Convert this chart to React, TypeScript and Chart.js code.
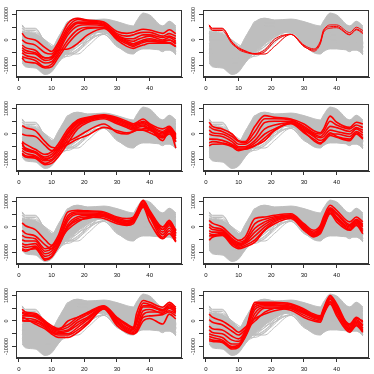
import React, { useEffect, useRef } from "react";
import { Chart, registerables } from "chart.js";

Chart.register(...registerables);

// x positions of the recorded values (time index 1..48)
const knotX = [1, 2, 5, 8, 10, 12, 15, 18, 21, 26, 30, 33, 35, 36, 38, 40, 44, 46, 48];
const xTicks = [0, 10, 20, 30, 40];
const yTicks = [-10000, -5000, 0, 5000, 10000];
const yTickLabels = ["-10000", "", "0", "", "10000"];

// dense core of the grey background (all series)
const grayUpper = [3500, 3000, 2500, -1000, -3000, 1000, 7000, 8500, 7800, 8200, 7200, 6000, 5500, 7500, 10500, 9800, 5500, 7300, 5500];
const grayLower = [-9000, -10500, -11000, -13500, -12500, -9000, -4500, -1000, 2000, 3000, -2000, -5000, -5500, -4500, -3500, -3500, -4000, -4000, -5500];

const cluster1 = [
  [2600, 1000, 0, -3000, -4500, -1000, 6500, 8500, 7800, 7000, 3300, 2600, 3000, 3500, 4200, 3900, 2600, 4000, 2500],
  [0, -1000, -2000, -5000, -5500, -2000, 5000, 8000, 7500, 6500, 2500, 1500, 2000, 2500, 3000, 3000, 1500, 2500, 1500],
  [-2000, -3000, -4000, -7000, -6500, -3000, 4000, 7000, 7000, 6000, 2000, 500, 500, 1000, 2000, 2000, 1000, 1500, 500],
  [-4000, -5000, -5500, -8000, -7500, -4000, 3000, 6500, 6500, 6000, 1500, 0, -500, 0, 1000, 1500, 0, 1000, -500],
  [-5000, -6000, -7000, -9000, -8500, -5000, 2000, 5500, 6000, 5500, 1000, -500, -1500, -1000, 0, 500, -500, 0, -1500],
  [-6500, -7000, -8000, -10500, -9500, -6000, 0, 4000, 5000, 5000, 500, -1500, -2500, -2000, -1000, -500, -1000, -1000, -2500],
  [-7000, -8500, -9000, -11000, -10500, -7000, -1500, 2600, 4500, 4800, 0, -2500, -3300, -2800, -2000, -1300, -1300, -1300, -2600],
  [-3000, -4000, -5000, -7000, -7000, -4000, -3500, -1300, 2000, 4500, 1000, -1000, -2000, -1500, -500, 0, -500, 0, -1000],
];
const cluster2 = [
  [5900, 4600, 4600, -1000, -3700, -4800, -5500, -5500, -2500, 2200, -2600, -3900, -1000, 3500, 5900, 5900, 2900, 5000, 3700],
  [5500, 3700, 3700, -1500, -3300, -4500, -5300, -3900, 300, 2200, -2000, -3500, -500, 4000, 5200, 5300, 2200, 4300, 3000],
  [5900, 4300, 4300, -800, -3000, -4200, -5500, -4600, -500, 2200, -2300, -4400, -1500, 3000, 4600, 4800, 2000, 4000, 2500],
];
const cluster3 = [
  [3300, 2500, 1300, -3000, -5200, -5500, -3000, -1000, 1300, 3900, 600, 0, 1000, 1500, 2000, 2500, -1000, 1000, -2000],
  [0, -500, -1000, -4500, -6500, -6000, -4000, -2000, -500, 2600, 1300, 500, 1000, 1500, 1500, 1500, -1500, 500, -3000],
  [-3000, -4000, -6000, -8000, -7000, -4000, 2000, 5500, 6500, 7500, 6500, 5000, 4000, 4500, 5900, 4000, 2000, 3000, 0],
  [-4500, -5500, -7000, -9000, -8000, -5000, 1000, 5000, 6200, 7200, 6000, 4500, 3500, 4000, 5000, 3500, 1000, 2500, -500],
  [-5500, -6500, -7500, -10000, -9000, -6000, 0, 4200, 5800, 7000, 5500, 4000, 3000, 3500, 4000, 3000, 500, 2000, -1000],
  [-6500, -7500, -8500, -10500, -10000, -7000, -1000, 3500, 5500, 6800, 5000, 3500, 2500, 3000, 3500, 2000, 0, 1500, -1500],
  [-7500, -8500, -9000, -11500, -10500, -8000, -2000, 3000, 5000, 6500, 4500, 3000, 2000, 2500, 3000, 1500, -500, 1000, -2000],
  [-8000, -9000, -9500, -12000, -11500, -9000, -3500, 2000, 4500, 6000, 4000, 2500, 1500, 2000, 1500, 500, -1500, 0, -3000],
  [-3500, -6000, -7000, -9500, -9000, -6000, 500, 4500, 6000, 7300, 5800, 4200, 3200, 3500, 4500, 2500, -2600, 1500, -5500],
];
const cluster4 = [
  [4600, 3000, 2000, 0, -2600, -3000, 3000, 7200, 6500, 5900, 3900, 1300, 500, 2000, 7000, 4600, 2600, 4600, 3900],
  [3000, 2000, 1000, -1000, -3000, -3500, 1000, 6000, 6000, 5500, 3000, 500, 0, 1000, 5000, 3500, 2000, 3500, 2500],
  [1500, 500, 0, -2000, -4000, -4000, -1000, 4500, 5000, 5000, 2500, 0, -1000, 0, 3000, 2500, 1000, 2500, 1500],
  [0, -500, -1000, -3000, -5000, -5000, -2500, 2000, 3500, 4500, 2000, -500, -1500, -1000, 1500, 1000, 0, 2000, 500],
  [-2000, -2000, -2500, -4000, -5500, -5500, -3500, 0, 2000, 4200, 1500, -1000, -2500, -2000, 0, 0, -1000, 1000, -500],
  [-3500, -3000, -3500, -4500, -6000, -6000, -4500, -2600, 1300, 4000, 500, -2000, -3500, -3000, -600, -1300, -2600, 0, -2000],
  [-4600, -4000, -3900, -5000, -6500, -5900, -4600, -1500, 1500, 4500, 1000, -2600, -3900, -2500, 500, -1000, -2000, 500, -1500],
];
const cluster5 = [
  [1600, 500, -1000, -5000, -7200, -5000, 0, 2600, 3300, 4500, 2000, 1000, 2500, 4000, 8000, 4000, 0, 2000, -1300],
  [-1300, -2500, -3500, -7000, -8500, -6000, -1000, 2000, 3900, 5000, 2500, 1200, 3000, 5000, 9000, 5000, -1000, 1000, -2500],
  [-3300, -4000, -4600, -8500, -7500, -3500, 5900, 6500, 6300, 5900, 3900, 3300, 3900, 6000, 10500, 6500, 0, 2600, -1500],
  [-5000, -5500, -5500, -9500, -8500, -4500, 4500, 6000, 6000, 5500, 3500, 2500, 3500, 5500, 10000, 6000, -1000, 1500, -2500],
  [-6500, -7000, -6500, -10500, -9500, -5500, 3500, 5500, 5500, 5000, 3000, 2000, 3000, 5000, 9500, 5500, -2000, 500, -3500],
  [-7500, -8000, -7500, -11500, -10500, -6500, 2500, 5000, 5000, 4500, 2500, 1500, 2500, 4500, 9000, 5000, -3000, -500, -4500],
  [-8500, -9000, -8500, -12500, -11500, -7500, 1000, 4000, 4500, 4000, 2000, 1000, 2000, 4000, 8500, 4000, -4000, -1500, -5500],
  [-9100, -9500, -8000, -13000, -11800, -7800, 0, 3300, 3900, 3300, 1300, 600, 1300, 3500, 7800, 2000, -4600, -2600, -5900],
];
const cluster6 = [
  [2600, 1500, 0, -3500, -5200, -3900, 3300, 3900, 4600, 5200, 1300, -1300, 600, 4000, 8500, 6500, 2000, 3900, 2000],
  [1000, 0, -1000, -4500, -6000, -5000, 1300, 3000, 4000, 4800, 800, -2000, 0, 3000, 7500, 5500, 1000, 3000, 1000],
  [0, -1000, -1500, -5000, -6500, -5500, -500, 2000, 3500, 4500, 500, -2500, -500, 2000, 7000, 5000, 500, 2500, 500],
  [-1500, -2000, -2000, -5500, -7000, -6000, -2000, 1000, 3000, 4200, 0, -3000, -1000, 1500, 6500, 4000, 0, 2000, 0],
  [-2500, -3000, -2500, -6000, -7500, -6500, -3500, 0, 2500, 4000, -500, -3500, -1500, 1000, 6000, 3500, -500, 1500, -1000],
  [-3500, -3500, -3000, -6500, -8000, -7200, -5000, -1000, 2000, 3800, -1000, -3900, -2000, 500, 5500, 3000, -1000, 1000, -1800],
  [-5200, -4000, -3300, -7200, -8500, -7800, -5900, -1300, 1300, 3300, -1300, -3500, -2600, 0, 5200, 2000, -1300, 600, -2600],
];
const cluster7 = [
  [4600, 3500, 3000, 0, -1800, -3000, -1500, 1400, 3400, 6000, 1400, -1200, -2500, 3000, 8000, 7300, 5400, 7300, 5400],
  [3000, 2500, 2000, -500, -2500, -3500, -2500, 500, 2500, 5700, 1000, -1800, -3000, 1000, 7000, 6500, 4500, 6500, 4500],
  [2000, 2000, 1500, -1000, -3000, -4000, -3500, -500, 1500, 5400, 500, -2500, -3500, -1000, 5500, 5500, 4000, 5500, 4000],
  [1000, 1000, 500, -1500, -3500, -4500, -4000, -1500, 1000, 5200, 0, -3000, -4000, -2500, 4000, 4500, 3000, 5000, 3500],
  [500, 0, 0, -2000, -4000, -5000, -5000, -2500, 500, 5000, -500, -3500, -4500, -3500, 2500, 3500, 3500, 4000, 3000],
  [0, 0, -500, -2500, -4500, -5500, -5500, -3500, -500, 4800, -1000, -4000, -5000, -4000, 1400, 2000, 2500, 3500, 2000],
  [1500, 1000, -1200, -3100, -5100, -6400, -6400, -4400, -1200, 4700, -1800, -4400, -5100, -4500, 0, 1000, -1200, 2700, 800],
  [3500, 3000, 2500, -500, -2500, -3500, 0, 1500, 3000, 5800, 1200, -1500, -2800, 0, 6000, 6000, 4000, 6000, 4800],
];
const cluster8 = [
  [2700, 1500, 0, -2500, -4400, -2500, 1000, 2700, 4000, 5000, 3000, 1500, 1000, 3000, 7500, 4000, -1500, 1000, 0],
  [500, -500, -1500, -4000, -5500, -3500, 0, 3500, 5000, 5500, 3500, 2000, 1500, 4000, 8500, 5000, -1200, 1400, -500],
  [-2000, -3000, -3500, -6000, -7000, -4000, 7300, 7300, 7300, 6700, 4700, 2700, 2000, 5000, 10000, 6700, -2000, 500, -1500],
  [-3500, -4500, -5000, -7500, -8000, -4500, 6500, 7000, 6800, 6300, 4200, 2200, 1500, 4500, 9500, 6000, -2500, 0, -2000],
  [-5000, -5500, -6500, -9000, -9000, -5000, 5500, 6500, 6300, 5800, 3700, 1700, 1000, 4000, 9000, 5000, -3000, -500, -2800],
  [-6000, -6500, -7500, -10000, -9500, -5500, 4500, 6000, 6000, 5300, 3000, 1200, 500, 3500, 8500, 4000, -3500, -1000, -3500],
  [-7000, -7500, -8000, -10500, -10000, -6000, 3000, 5500, 5500, 4800, 2200, 600, 0, 3000, 7500, 3000, -4000, -1500, -4000],
  [-7700, -8000, -8400, -11000, -10300, -6400, 1500, 5000, 5000, 4200, 1400, 0, -500, 2500, 6700, 2000, -4400, -1800, -4400],
];

const clusters = [cluster1, cluster2, cluster3, cluster4, cluster5, cluster6, cluster7, cluster8];

const GRAY = "#BEBEBE";
const RED = "#FF0000";
const AXIS = "#333333";
const FONT = "'Liberation Sans', Arial, Helvetica, sans-serif";

const toPts = (ys: number[]) => ys.map((y, i) => ({ x: knotX[i], y }));

const boxPlugin = {
  id: "rbox",
  afterDraw(chart: any) {
    const { ctx, chartArea: a } = chart;
    ctx.save();
    ctx.strokeStyle = AXIS;
    ctx.lineWidth = 1;
    ctx.strokeRect(a.left + 0.5, a.top + 0.5, a.right - a.left - 1, a.bottom - a.top - 1);
    ctx.restore();
  },
};

function Panel({ idx }: { idx: number }) {
  const ref = useRef<HTMLCanvasElement>(null);
  useEffect(() => {
    const allCurves = clusters.flat();
    const own = clusters[idx];
    const redWidth = own.length < 5 ? 1 : 1.6;
    const datasets: any[] = [
      { data: toPts(grayUpper), borderColor: GRAY, backgroundColor: GRAY, borderWidth: 1, fill: "+1", order: 3 },
      { data: toPts(grayLower), borderColor: GRAY, borderWidth: 1, fill: false, order: 3 },
      ...allCurves.map((c) => ({ data: toPts(c), borderColor: GRAY, borderWidth: 1, fill: false, order: 2 })),
      ...own.map((c) => ({ data: toPts(c), borderColor: RED, borderWidth: redWidth, fill: false, order: 1 })),
    ];
    const chart = new Chart(ref.current as HTMLCanvasElement, {
      type: "line",
      data: { datasets },
      options: {
        animation: false,
        responsive: false,
        devicePixelRatio: 1,
        events: [],
        layout: { padding: { top: 10, right: 5, left: 0, bottom: 0 } },
        elements: {
          point: { radius: 0 },
          line: { cubicInterpolationMode: "monotone" },
        },
        plugins: { legend: { display: false }, tooltip: { enabled: false } },
        scales: {
          x: {
            type: "linear",
            min: -0.88,
            max: 49.88,
            afterBuildTicks: (s: any) => {
              s.ticks = xTicks.map((v) => ({ value: v }));
            },
            afterFit: (s: any) => {
              s.height = 17;
            },
            grid: { display: true, drawOnChartArea: false, drawTicks: true, tickLength: 4, color: AXIS, lineWidth: 1 },
            border: { display: true, color: AXIS },
            ticks: {
              autoSkip: false,
              minRotation: 0,
              maxRotation: 0,
              padding: 4,
              color: "#111",
              font: { size: 6, family: FONT },
              callback: (v: any) => String(v),
            },
          },
          y: {
            type: "linear",
            min: -14500,
            max: 11750,
            afterBuildTicks: (s: any) => {
              s.ticks = yTicks.map((v) => ({ value: v }));
            },
            afterFit: (s: any) => {
              s.width = 16;
            },
            grid: { display: true, drawOnChartArea: false, drawTicks: true, tickLength: 4, color: AXIS, lineWidth: 1 },
            border: { display: true, color: AXIS },
            ticks: {
              autoSkip: false,
              minRotation: 90,
              maxRotation: 90,
              crossAlign: "center",
              padding: -3,
              color: "#111",
              font: { size: 5.5, family: FONT },
              callback: (v: any) => {
                const i = yTicks.indexOf(Number(v));
                return i >= 0 ? yTickLabels[i] : "";
              },
            },
          },
        },
      } as any,
      plugins: [boxPlugin],
    });
    return () => chart.destroy();
  }, [idx]);
  return <canvas ref={ref} width={187} height={94} style={{ display: "block" }} />;
}

export default function App() {
  return (
    <div style={{ position: "absolute", left: 0, top: 0, width: 374, height: 374, background: "#fff" }}>
      {clusters.map((_, i) => {
        const row = Math.floor(i / 2);
        const col = i % 2;
        return (
          <div key={i} style={{ position: "absolute", left: col * 187, top: Math.round(row * 93.5), width: 187, height: 94 }}>
            <Panel idx={i} />
          </div>
        );
      })}
    </div>
  );
}
